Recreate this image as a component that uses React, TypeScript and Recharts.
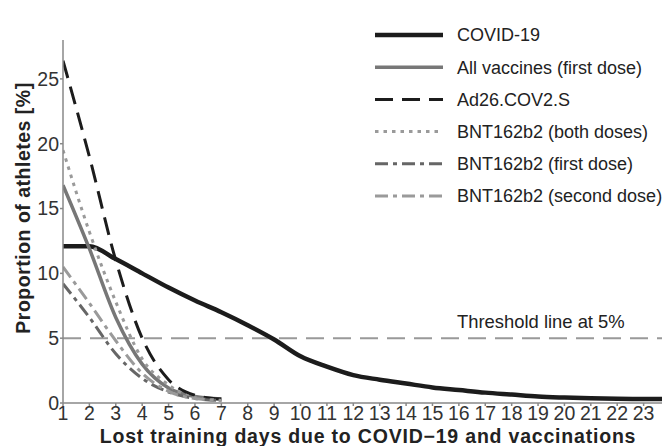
import React from 'react';
import { LineChart, Line, XAxis, YAxis, ReferenceLine, Legend } from 'recharts';

const days = [1, 2, 3, 4, 5, 6, 7, 8, 9, 10, 11, 12, 13, 14, 15, 16, 17, 18, 19, 20, 21, 22, 23, 24];
const covid = [12.1, 12.1, 11.1, 10.0, 8.9, 7.9, 7.0, 6.0, 4.9, 3.6, 2.8, 2.15, 1.8, 1.5, 1.2, 1.0, 0.8, 0.65, 0.5, 0.42, 0.36, 0.32, 0.3, 0.3];
const allVaccines = [16.8, 11.9, 6.6, 3.0, 1.15, 0.5, 0.3];
const ad26 = [26.4, 19.0, 11.0, 5.0, 1.8, 0.6, 0.3];
const bntBoth = [19.5, 13.2, 7.8, 3.4, 1.4, 0.4, 0.2];
const bntFirst = [9.2, 6.6, 3.8, 1.9, 0.85, 0.35, 0.2];
const bntSecond = [10.5, 7.7, 4.8, 2.3, 0.9, 0.35, 0.2];

const xTicks = [1, 2, 3, 4, 5, 6, 7, 8, 9, 10, 11, 12, 13, 14, 15, 16, 17, 18, 19, 20, 21, 22, 23];
const yTicks = [0, 5, 10, 15, 20, 25];
const threshold = 5;

const seriesNames = [
  'COVID-19',
  'All vaccines (first dose)',
  'Ad26.COV2.S',
  'BNT162b2 (both doses)',
  'BNT162b2 (first dose)',
  'BNT162b2 (second dose)',
];

const FONT = "'Liberation Sans', Arial, Helvetica, sans-serif";

const styles = [
  { key: 'covid', color: '#1c1c1c', width: 4.5, dash: undefined },
  { key: 'allVaccines', color: '#777777', width: 3.5, dash: undefined },
  { key: 'ad26', color: '#1c1c1c', width: 3, dash: '18 9' },
  { key: 'bntBoth', color: '#9a9a9a', width: 3, dash: '3.5 5' },
  { key: 'bntFirst', color: '#666666', width: 3, dash: '13 5 4 5' },
  { key: 'bntSecond', color: '#9a9a9a', width: 3, dash: '13 5 4 5' },
];

const seriesValues: Record<string, number[]> = {
  covid,
  allVaccines,
  ad26,
  bntBoth,
  bntFirst,
  bntSecond,
};

const data = days.map((d, i) => {
  const row: Record<string, number | undefined> = { day: d };
  for (const s of styles) {
    row[s.key] = seriesValues[s.key][i];
  }
  return row;
});

const LegendContent = () => (
  <svg width={295} height={200} style={{ display: 'block' }}>
    {styles.map((s, i) => {
      const y = 11 + i * 32.2;
      return (
        <g key={s.key}>
          <line x1={0} x2={68} y1={y} y2={y} stroke={s.color} strokeWidth={s.width} strokeDasharray={s.dash} />
          <text x={82} y={y} dy="0.35em" fontFamily={FONT} fontSize={18} fill="#222">
            {seriesNames[i]}
          </text>
        </g>
      );
    })}
  </svg>
);

export default function App() {
  return (
    <LineChart
      width={662}
      height={438}
      data={data}
      margin={{ top: 32, right: 0, left: 25, bottom: 13 }}
    >
      <XAxis
        dataKey="day"
        type="number"
        domain={[1, 24]}
        ticks={xTicks}
        interval={0}
        allowDataOverflow
        height={30}
        stroke="#888"
        strokeWidth={1.5}
        tickSize={3}
        tickMargin={0}
        tick={{ fill: '#333', fontSize: 19.5, fontFamily: FONT }}
        label={{
          content: () => (
            <text
              x={360}
              y={435}
              textAnchor="middle"
              fontFamily={FONT}
              fontSize={19.5}
              letterSpacing={0.8}
              fontWeight="bold"
              fill="#222"
            >
              Lost training days due to COVID−19 and vaccinations
            </text>
          ),
        }}
      />
      <YAxis
        type="number"
        domain={[0, 28]}
        ticks={yTicks}
        width={30}
        stroke="#888"
        strokeWidth={1.5}
        tickSize={3}
        tickMargin={1}
        tick={{ fill: '#333', fontSize: 19.5, fontFamily: FONT }}
        label={{
          content: () => (
            <text
              x={22}
              y={200}
              textAnchor="middle"
              transform="rotate(-90, 22, 200)"
              fontFamily={FONT}
              fontSize={19.5}
              letterSpacing={0.5}
              fontWeight="bold"
              fill="#222"
            >
              Proportion of athletes [%]
            </text>
          ),
        }}
      />
      <ReferenceLine
        y={threshold}
        stroke="#999"
        strokeWidth={2}
        strokeDasharray="18 9"
        label={{
          content: () => (
            <text x={449} y={314} dy="0.35em" fontFamily={FONT} fontSize={18.4} fill="#222">
              Threshold line at 5%
            </text>
          ),
        }}
      />
      {styles.map((s, i) => (
        <Line
          key={s.key}
          dataKey={s.key}
          name={seriesNames[i]}
          type="monotone"
          stroke={s.color}
          strokeWidth={s.width}
          strokeDasharray={s.dash}
          dot={false}
          activeDot={false}
          isAnimationActive={false}
        />
      ))}
      <Legend
        layout="horizontal"
        align="center"
        verticalAlign="middle"
        content={LegendContent}
        wrapperStyle={{ left: 367, top: 16, width: 295, height: 200 }}
      />
    </LineChart>
  );
}
